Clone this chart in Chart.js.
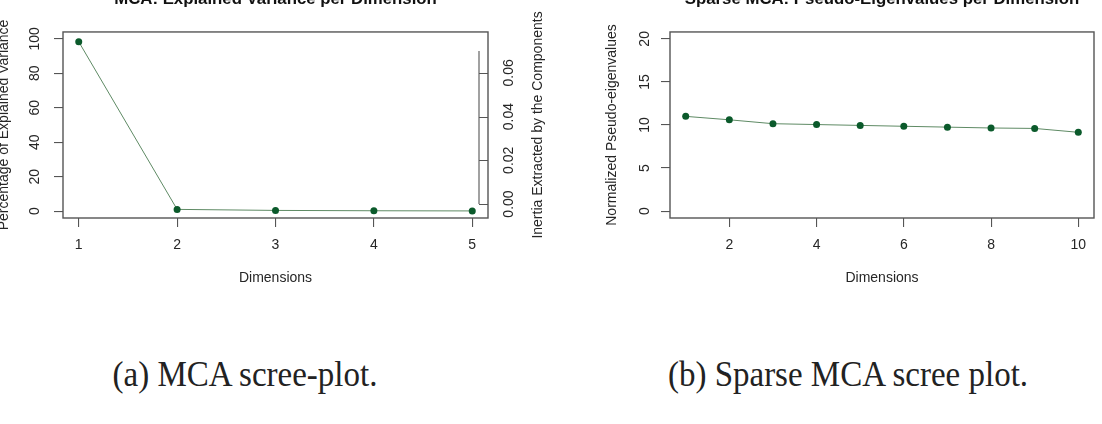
<!DOCTYPE html>
<html>
<head>
<meta charset="utf-8">
<script src="https://cdn.jsdelivr.net/npm/chart.js@4.4.1/dist/chart.umd.min.js"></script>
<style>
  html, body { margin: 0; padding: 0; background: #fff; }
  body { width: 1102px; height: 424px; position: relative; overflow: hidden; }
  .panel { position: absolute; top: -12px; width: 551px; height: 312px; }
  #boxA { left: 0; }
  #boxB { left: 551px; }
  .caption { position: absolute; top: 359px; width: 420px; text-align: center;
    font-family: "Liberation Serif", "Times New Roman", serif; font-size: 33px; line-height: 33px;
    color: #222; white-space: nowrap; transform: scaleY(1.08); transform-origin: center 28px; }
  #capA { left: 35px; }
  #capB { left: 638px; }
</style>
</head>
<body>
<div class="panel" id="boxA"><canvas id="mca" width="551" height="312"></canvas></div>
<div class="panel" id="boxB"><canvas id="smca" width="551" height="312"></canvas></div>
<div class="caption" id="capA">(a) MCA scree-plot.</div>
<div class="caption" id="capB">(b) Sparse MCA scree plot.</div>
<script>
// values
var dimsA = [1, 2, 3, 4, 5];
var explVar = [98.3, 1.0, 0.4, 0.2, 0.1];
var dimsB = [1, 2, 3, 4, 5, 6, 7, 8, 9, 10];
var pseudoEig = [11.0, 10.6, 10.15, 10.05, 9.95, 9.85, 9.75, 9.65, 9.6, 9.15];

// tick positions / labels
var xTicksA = [1, 2, 3, 4, 5];
var yTicksA = [0, 20, 40, 60, 80, 100];
var inertiaTicks = [0, 0.01, 0.02, 0.03, 0.04, 0.05, 0.06, 0.07];
var inertiaLabels = ['0.00', '', '0.02', '', '0.04', '', '0.06', ''];
var xTicksB = [2, 4, 6, 8, 10];
var yTicksB = [0, 5, 10, 15, 20];

var txtCol = '#262626';
var axCol = '#555555';
var lineCol = '#5e8a64';
var ptCol = '#0b5a2b';

Chart.defaults.font.family = '"Liberation Sans", Arial, sans-serif';
Chart.defaults.font.size = 14;
Chart.defaults.color = txtCol;

function fixTicks(list) {
  return function(scale) {
    scale.ticks = list.map(function(v) { return {value: v}; });
  };
}

function toPoints(xs, ys) {
  return xs.map(function(x, i) { return {x: x, y: ys[i]}; });
}

// R style box around the plot region (+ the inner right axis of panel a)
var framePlugin = {
  id: 'rframe',
  afterDatasetsDraw: function(chart) {
    var a = chart.chartArea, ctx = chart.ctx;
    ctx.save();
    ctx.strokeStyle = axCol;
    ctx.lineWidth = 1.4;
    ctx.strokeRect(a.left, a.top, a.right - a.left, a.bottom - a.top);
    if (chart.scales.y2) {
      var s = chart.scales.y2, x = a.right - 9;
      ctx.lineWidth = 1.1;
      ctx.beginPath();
      ctx.moveTo(x, s.getPixelForValue(inertiaTicks[0]));
      ctx.lineTo(x, s.getPixelForValue(inertiaTicks[inertiaTicks.length - 1]));
      s.ticks.forEach(function(t) {
        var py = Math.round(s.getPixelForValue(t.value)) + 0.5;
        ctx.moveTo(x, py);
        ctx.lineTo(a.right, py);
      });
      ctx.stroke();
      ctx.translate(538, (a.top + a.bottom) / 2);
      ctx.rotate(-Math.PI / 2);
      ctx.textAlign = 'center';
      ctx.textBaseline = 'middle';
      ctx.font = '14px "Liberation Sans", Arial, sans-serif';
      ctx.fillStyle = txtCol;
      ctx.fillText('Inertia Extracted by the Components', 0, 0);
    }
    ctx.restore();
  }
};

function lineSet(pts) {
  return {
    data: pts,
    borderColor: lineCol,
    borderWidth: 1,
    pointRadius: 3.5,
    pointBackgroundColor: ptCol,
    pointBorderColor: ptCol,
    pointBorderWidth: 0,
    tension: 0
  };
}

function titleOpts(text) {
  return {
    display: true,
    text: text,
    fullSize: false,
    color: '#111',
    font: {size: 16.8, weight: 'bold'},
    padding: {top: 0.9, bottom: 22.9}
  };
}

var gridOpts = {drawOnChartArea: false, tickLength: 9, color: axCol, lineWidth: 1.1};

window.onload = function() {
  new Chart(document.getElementById('mca').getContext('2d'), {
    type: 'line',
    data: {datasets: [lineSet(toPoints(dimsA, explVar))]},
    options: {
      responsive: false,
      animation: false,
      layout: {padding: 0},
      plugins: {
        legend: {display: false},
        tooltip: {enabled: false},
        title: titleOpts('MCA: Explained Variance per Dimension')
      },
      scales: {
        x: {
          type: 'linear', min: 0.84, max: 5.16,
          afterBuildTicks: fixTicks(xTicksA),
          afterFit: function(s) { s.height = 82; },
          grid: gridOpts,
          border: {display: false},
          ticks: {padding: 9.6, minRotation: 0, maxRotation: 0, autoSkip: false},
          title: {display: true, text: 'Dimensions', padding: {top: 0, bottom: 13.6}}
        },
        y: {
          type: 'linear', position: 'left', min: -4, max: 104,
          afterBuildTicks: fixTicks(yTicksA),
          afterFit: function(s) { s.width = 63; },
          grid: gridOpts,
          border: {display: false},
          ticks: {minRotation: 90, maxRotation: 90, crossAlign: 'center', padding: 7.3},
          title: {display: true, text: 'Percentage of Explained Variance', padding: {top: -4.4, bottom: 0}}
        },
        y2: {
          type: 'linear', position: 'right', min: -0.0064, max: 0.0787,
          afterBuildTicks: fixTicks(inertiaTicks),
          afterFit: function(s) { s.width = 63; },
          grid: {display: false},
          border: {display: false},
          ticks: {
            minRotation: 90, maxRotation: 90, crossAlign: 'center', padding: 0,
            callback: function(v, i) { return inertiaLabels[i]; }
          }
        }
      }
    },
    plugins: [framePlugin]
  });

  new Chart(document.getElementById('smca').getContext('2d'), {
    type: 'line',
    data: {datasets: [lineSet(toPoints(dimsB, pseudoEig))]},
    options: {
      responsive: false,
      animation: false,
      layout: {padding: {left: 0, right: 8, top: 0, bottom: 0}},
      plugins: {
        legend: {display: false},
        tooltip: {enabled: false},
        title: titleOpts('Sparse MCA: Pseudo-Eigenvalues per Dimension')
      },
      scales: {
        x: {
          type: 'linear', min: 0.64, max: 10.36,
          afterBuildTicks: fixTicks(xTicksB),
          afterFit: function(s) { s.height = 82; },
          grid: gridOpts,
          border: {display: false},
          ticks: {padding: 9.6, minRotation: 0, maxRotation: 0, autoSkip: false},
          title: {display: true, text: 'Dimensions', padding: {top: 0, bottom: 13.6}}
        },
        y: {
          type: 'linear', position: 'left', min: -0.8, max: 20.8,
          afterBuildTicks: fixTicks(yTicksB),
          afterFit: function(s) { s.width = 119; },
          grid: gridOpts,
          border: {display: false},
          ticks: {minRotation: 90, maxRotation: 90, crossAlign: 'center', padding: 8.2},
          title: {display: true, text: 'Normalized Pseudo-eigenvalues', padding: {top: 52.6, bottom: 0}}
        }
      }
    },
    plugins: [framePlugin]
  });
};
</script>
</body>
</html>
